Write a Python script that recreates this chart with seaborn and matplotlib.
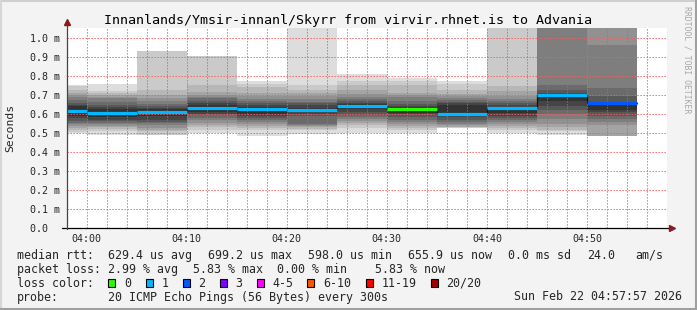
import matplotlib
matplotlib.use("Agg")
import matplotlib.pyplot as plt
import seaborn as sns
import pandas as pd
from matplotlib.patches import Rectangle
from matplotlib.lines import Line2D

# ---------------- data ----------------
bar_starts = ["03:55", "04:00", "04:05", "04:10", "04:15", "04:20",
              "04:25", "04:30", "04:35", "04:40", "04:45", "04:50"]
median_ms = [0.617, 0.603, 0.609, 0.631, 0.624, 0.622,
             0.642, 0.624, 0.598, 0.630, 0.699, 0.656]
lost_pings = [1, 1, 1, 1, 1, 1, 1, 0, 1, 1, 1, 2]

# sorted ping times (ms) per 5 minute step; values above 1.05 are off scale
ping_0355 = [0.498, 0.507, 0.515, 0.525, 0.535, 0.545, 0.555, 0.565, 0.577, 0.590,
             0.640, 0.648, 0.660, 0.675, 0.690, 0.700, 0.712, 0.728, 0.745, 0.752]
ping_0400 = [0.488, 0.509, 0.520, 0.530, 0.537, 0.545, 0.553, 0.561, 0.570, 0.582,
             0.627, 0.637, 0.648, 0.665, 0.683, 0.690, 0.700, 0.710, 0.722, 0.757]
ping_0405 = [0.490, 0.491, 0.508, 0.518, 0.528, 0.540, 0.550, 0.560, 0.570, 0.588,
             0.628, 0.632, 0.640, 0.652, 0.666, 0.685, 0.700, 0.724, 0.928, 0.930]
ping_0410 = [0.498, 0.518, 0.530, 0.542, 0.555, 0.568, 0.580, 0.592, 0.600, 0.612,
             0.648, 0.656, 0.670, 0.682, 0.690, 0.700, 0.717, 0.752, 0.902, 0.903]
ping_0415 = [0.483, 0.515, 0.526, 0.535, 0.545, 0.556, 0.567, 0.580, 0.590, 0.600,
             0.635, 0.645, 0.655, 0.666, 0.680, 0.695, 0.710, 0.740, 0.755, 0.772]
ping_0420 = [0.495, 0.515, 0.522, 0.530, 0.535, 0.540, 0.545, 0.590, 0.600, 0.612,
             0.630, 0.645, 0.657, 0.665, 0.680, 0.692, 0.710, 0.726, 0.753, 1.300]
ping_0425 = [0.498, 0.525, 0.540, 0.553, 0.565, 0.575, 0.585, 0.595, 0.610, 0.625,
             0.650, 0.658, 0.668, 0.678, 0.690, 0.705, 0.725, 0.752, 0.775, 0.810]
ping_0430 = [0.498, 0.515, 0.526, 0.538, 0.548, 0.558, 0.566, 0.583, 0.598, 0.606,
             0.636, 0.643, 0.650, 0.666, 0.688, 0.700, 0.710, 0.752, 0.772, 0.790]
ping_0435 = [0.525, 0.528, 0.530, 0.534, 0.540, 0.548, 0.556, 0.570, 0.582, 0.590,
             0.648, 0.657, 0.665, 0.675, 0.685, 0.695, 0.705, 0.727, 0.755, 0.772]
ping_0440 = [0.500, 0.517, 0.528, 0.538, 0.548, 0.560, 0.568, 0.578, 0.590, 0.605,
             0.638, 0.645, 0.655, 0.668, 0.680, 0.692, 0.720, 0.747, 1.300, 1.300]
ping_0445 = [0.488, 0.509, 0.518, 0.530, 0.545, 0.572, 0.598, 0.620, 0.643, 0.668,
             0.706, 0.712, 0.728, 0.753, 1.300, 1.300, 1.300, 1.300, 1.300, 1.300]
ping_0450 = [0.484, 0.484, 0.484, 0.484, 0.544, 0.560, 0.575, 0.590, 0.608, 0.622,
             0.660, 0.664, 0.692, 0.736, 0.962, 1.300, 1.300, 1.300, 1.300, 1.300]
pings = [ping_0355, ping_0400, ping_0405, ping_0410, ping_0415, ping_0420,
         ping_0425, ping_0430, ping_0435, ping_0440, ping_0445, ping_0450]

loss_labels = ["0", "1", "2", "3", "4-5", "6-10", "11-19", "20/20"]
loss_colors = ["#26ff00", "#00b8ff", "#0059ff", "#7e00ff",
               "#ff00ff", "#ff5500", "#ff0000", "#a10000"]
loss_upper = [0, 1, 2, 3, 5, 10, 19, 20]

y_ticks_ms = [0.0, 0.1, 0.2, 0.3, 0.4, 0.5, 0.6, 0.7, 0.8, 0.9, 1.0]
x_tick_labels = ["04:00", "04:10", "04:20", "04:30", "04:40", "04:50"]

title = "Innanlands/Ymsir-innanl/Skyrr from virvir.rhnet.is to Advania"
rtt_stats = ["629.4 us avg", "699.2 us max", "598.0 us min", "655.9 us now",
             "0.0 ms sd", "24.0", "am/s"]
loss_stats = ["2.99 % avg", "5.83 % max", "0.00 % min", "5.83 % now"]
probe_text = "20 ICMP Echo Pings (56 Bytes) every 300s"
stamp_text = "Sun Feb 22 04:57:57 2026"

# ---------------- helpers ----------------
W, H = 697, 310
def fx(px):
    return px / W
def fy(py):
    return 1 - py / H
def minutes(t):
    h, m = t.split(":")
    return int(h) * 60 + int(m) - 240

sns.set_style("white")
plt.rcParams["font.family"] = ["DejaVu Sans Mono"]

fig = plt.figure(figsize=(W / 100, H / 100), dpi=100, facecolor="#f3f3f3")
ax_l, ax_r, ax_t, ax_b = 66.7, 667.0, 27.7, 228.3
ax = fig.add_axes([fx(ax_l), fy(ax_b), fx(ax_r) - fx(ax_l), (ax_b - ax_t) / H])
ax.set_facecolor("white")

x0 = [minutes(t) for t in bar_starts]
step = 5

# smoke layers: pair i spans ping[i] .. ping[n-1-i]
for xs, p in zip(x0, pings):
    p = sorted(p)
    n = len(p)
    half = n // 2
    for i in range(half):
        g = int(190 / half * (half - (i + 1))) + 50
        col = "#%02x%02x%02x" % (g, g, g)
        ax.bar(xs, p[n - 1 - i] - p[i], bottom=p[i], width=step, align="edge",
               color=col, linewidth=0, zorder=1)

# dark step connector through the medians
med_df = pd.DataFrame({"t": x0 + [x0[-1] + step], "m": median_ms + [median_ms[-1]]})
sns.lineplot(data=med_df, x="t", y="m", ax=ax, color="#111111", lw=0.9,
             drawstyle="steps-post", estimator=None, sort=False, zorder=3,
             legend=False)

def loss_color(k):
    for up, c in zip(loss_upper, loss_colors):
        if k <= up:
            return c
    return loss_colors[-1]

ax.hlines(median_ms, x0, [x + step for x in x0],
          colors=[loss_color(k) for k in lost_pings], lw=2.3, zorder=4)

# axes limits, ticks, grid
ax.set_xlim(-2, 58)
ax.set_ylim(0, (ax_b - ax_t) / 190.6)
ax.set_xticks([minutes(t) for t in x_tick_labels])
ax.set_xticklabels(x_tick_labels)
ax.set_xticks([m for m in range(-2, 59, 2) if m % 10 != 0], minor=True)
ax.set_yticks(y_ticks_ms)
ax.set_yticklabels([("%.1f m" % v) if v > 0 else "%.1f  " % v for v in y_ticks_ms])
ax.set_axisbelow(False)
ax.grid(which="major", axis="both", color=(1, 0.35, 0.35, 0.26), lw=0.72,
        linestyle=(0, (1.3, 1.7)))
ax.grid(which="minor", axis="x", color=(0.5, 0.5, 0.5, 0.3), lw=0.72,
        linestyle=(0, (1.2, 1.8)))
for gl in ax.get_xgridlines() + ax.get_ygridlines():
    gl.set_zorder(2)
ax.tick_params(axis="x", which="both", length=1.6, width=0.7, color="#222222",
               pad=2.4, labelsize=7.2, direction="out")
ax.tick_params(axis="y", which="major", length=3.0, width=0.7, color="#222222",
               pad=1.8, labelsize=7.2, direction="out")
for s in ax.spines.values():
    s.set_visible(False)
ax.set_xlabel("")
ax.set_ylabel("")

# axis lines with arrows
ax.add_line(Line2D([-0.008, 1.004], [0, 0], transform=ax.transAxes, color="#000000",
                   lw=0.9, clip_on=False, zorder=5))
ax.add_line(Line2D([0, 0], [-0.004, 1.02], transform=ax.transAxes, color="#444444",
                   lw=0.9, clip_on=False, zorder=5))
ax.plot([1.009], [0], marker=">", ms=4.2, color="#8b1a1a", transform=ax.transAxes,
        clip_on=False, zorder=6)
ax.plot([0], [1.027], marker="^", ms=4.2, color="#8b1a1a", transform=ax.transAxes,
        clip_on=False, zorder=6)

# texts
fig.text(fx(347.5), fy(23.7), title, ha="center", va="baseline", fontsize=9.6,
         color="#000000")
fig.text(fx(10.3), fy(127.5), "Seconds", rotation=90, ha="center", va="center",
         fontsize=8.2)
fig.text(fx(687.3), fy(6), "RRDTOOL / TOBI OETIKER", rotation=270, ha="center",
         va="top", fontsize=5.9, color="#a8a8a8")

fs = 8.4
row_y = [258.7, 272.7, 286.7, 300.5]
fig.text(fx(16.7), fy(row_y[0]), "median rtt:", fontsize=fs, va="baseline")
for xp, s in zip([107.7, 207.7, 307.7, 407.7, 507.7, 586.7, 635.7], rtt_stats):
    fig.text(fx(xp), fy(row_y[0]), s, fontsize=fs, va="baseline")
fig.text(fx(16.7), fy(row_y[1]), "packet loss:", fontsize=fs, va="baseline")
for xp, s in zip([107.7, 192.7, 277.0, 375.0], loss_stats):
    fig.text(fx(xp), fy(row_y[1]), s, fontsize=fs, va="baseline")
fig.text(fx(16.7), fy(row_y[2]), "loss color:", fontsize=fs, va="baseline")
box_x = [108.3, 145.7, 182.7, 219.7, 256.7, 307.3, 365.7, 430.7]
for bx, lab, col in zip(box_x, loss_labels, loss_colors):
    fig.patches.append(Rectangle((fx(bx), fy(286.5)), 7 / W, 8 / H,
                                 transform=fig.transFigure, facecolor=col,
                                 edgecolor="#000000", lw=0.8))
    fig.text(fx(bx + 15.5), fy(row_y[2]), lab, fontsize=fs, va="baseline")
fig.text(fx(16.7), fy(row_y[3]), "probe:", fontsize=fs, va="baseline")
fig.text(fx(107.7), fy(row_y[3]), probe_text, fontsize=fs, va="baseline")
fig.text(fx(682.0), fy(row_y[3]), stamp_text, fontsize=fs, va="baseline", ha="right")

# 3D-ish border of the image
fig.add_artist(Line2D([0, 1], [fy(0.8), fy(0.8)], transform=fig.transFigure,
                      color="#cfcfcf", lw=1.5))
fig.add_artist(Line2D([fx(0.8), fx(0.8)], [0, 1], transform=fig.transFigure,
                      color="#d6d6d6", lw=1.5))
fig.add_artist(Line2D([0, 1], [fy(308.5), fy(308.5)], transform=fig.transFigure,
                      color="#a0a0a0", lw=2.2))
fig.add_artist(Line2D([fx(695.5), fx(695.5)], [0, 1], transform=fig.transFigure,
                      color="#a0a0a0", lw=2.2))

fig.savefig("out.png", dpi=100, facecolor=fig.get_facecolor())
